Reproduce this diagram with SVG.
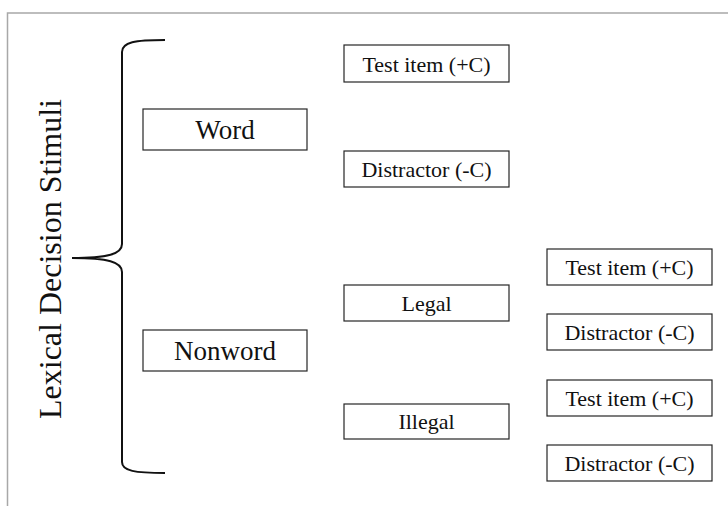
<svg xmlns="http://www.w3.org/2000/svg" width="728" height="506" viewBox="0 0 728 506">
<style>
.box{fill:#fff;stroke:#262626;stroke-width:1.2}
.t{font-family:"Liberation Serif","Times New Roman",serif;fill:#111;text-anchor:middle}
.s{font-size:22px}
.l{font-size:27px}
</style>
<rect width="728" height="506" fill="#fff"/>
<path d="M7.5,506 V13 H728" fill="none" stroke="#a8a8a8" stroke-width="1.5"/>
<g id="title">
<text class="t" x="0" y="0" font-size="32" transform="translate(60.5,259) rotate(-90)">Lexical Decision Stimuli</text>
</g>
<g id="connectors">
<path d="M165,40 C135,40 122,42 122,52 L122,244 C122,254 108,258 72,258 C108,258 122,262 122,272 L122,462 C122,471 135,473 165,473" fill="none" stroke="#111" stroke-width="2"/>
</g>
<g id="word"><rect class="box" x="143" y="109" width="164" height="41"/><text class="t l" x="225" y="139">Word</text></g>
<g id="nonword"><rect class="box" x="143" y="330" width="164" height="41"/><text class="t l" x="225" y="360">Nonword</text></g>
<g id="word-test"><rect class="box" x="344" y="45" width="165" height="37"/><text class="t s" x="426.5" y="71.5">Test item (+C)</text></g>
<g id="word-distractor"><rect class="box" x="344" y="151" width="165" height="36"/><text class="t s" x="426.5" y="177">Distractor (-C)</text></g>
<g id="legal"><rect class="box" x="344" y="285" width="165" height="36"/><text class="t s" x="426.5" y="311">Legal</text></g>
<g id="illegal"><rect class="box" x="344" y="404" width="165" height="35"/><text class="t s" x="426.5" y="429">Illegal</text></g>
<g id="legal-test"><rect class="box" x="547" y="249" width="165" height="36"/><text class="t s" x="629.5" y="275">Test item (+C)</text></g>
<g id="legal-distractor"><rect class="box" x="547" y="314" width="165" height="36"/><text class="t s" x="629.5" y="340">Distractor (-C)</text></g>
<g id="illegal-test"><rect class="box" x="547" y="380" width="165" height="36"/><text class="t s" x="629.5" y="406">Test item (+C)</text></g>
<g id="illegal-distractor"><rect class="box" x="547" y="445" width="165" height="36"/><text class="t s" x="629.5" y="471">Distractor (-C)</text></g>
</svg>
